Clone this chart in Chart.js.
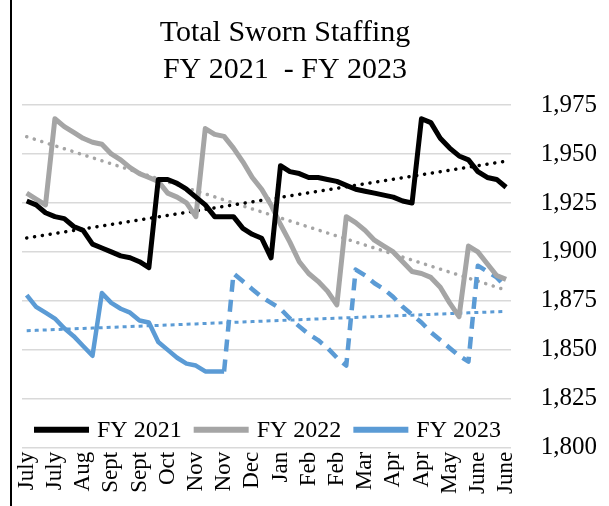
<!DOCTYPE html>
<html>
<head>
<meta charset="utf-8">
<script src="https://cdn.jsdelivr.net/npm/chart.js@4.4.1/dist/chart.umd.min.js"></script>
<style>
  html,body{margin:0;padding:0;background:#fff;}
  #wrap{width:609px;height:506px;position:relative;}
</style>
</head>
<body>
<div id="wrap"><canvas id="chart" width="609" height="506"></canvas></div>
<script>
// weekly sworn staffing, one point per week, July -> June
const tickLabels = ['July','July','Aug','Sept','Sept','Oct','Nov','Nov','Dec','Jan','Feb','Feb','Mar','Apr','Apr','May','June','June'];
const seriesNames = ['FY 2021','FY 2022','FY 2023'];
const fy2021 = [1926,1924,1920,1918,1917,1913,1911,1904,1902,1900,
                1898,1897,1895,1892,1937,1937,1935,1932,1928,1924,
                1918,1918,1918,1912,1909,1907,1897,1944,1941,1940,
                1938,1938,1937,1936,1934,1932,1931,1930,1929,1928,
                1926,1925,1968,1966,1958,1953,1949,1947,1941,1938,
                1937,1933];
const fy2022 = [1930,1927,1924,1968,1964,1961,1958,1956,1955,1950,
                1947,1943,1940,1938,1936,1930,1928,1925,1918,1963,
                1960,1959,1953,1946,1938,1932,1924,1914,1905,1895,
                1889,1885,1880,1873,1918,1915,1911,1906,1903,1900,
                1895,1890,1889,1887,1882,1874,1867,1903,1900,1894,
                1888,1886];
const fy2023 = [1878,1872,1869,1866,1861,1857,1852,1847,1879,1874,
                1871,1869,1865,1864,1854,1850,1846,1843,1842,1839,
                1839,1839,1889,1885,1881,1877,1874,1871,1866,1862,
                1858,1855,1851,1846,1842,1891,1888,1884,1881,1877,
                1872,1868,1864,1859,1855,1851,1847,1844,1893,1890,
                1887,1882];
const projectFrom = 21; // FY 2023 is projected (dashed) after this week
const titleLines = ['Total Sworn Staffing', 'FY 2021  - FY 2023'];

const weeks = fy2021.map((_, i) => tickLabels[Math.floor(i / 3)]);

// least squares trendline, like the excel one
function trend(vals){
  const n = vals.length;
  let sx = 0, sy = 0, sxy = 0, sxx = 0;
  vals.forEach((v, i) => { sx += i; sy += v; sxy += i * v; sxx += i * i; });
  const b = (n * sxy - sx * sy) / (n * sxx - sx * sx);
  const a = (sy - b * sx) / n;
  return vals.map((_, i) => a + b * i);
}

const colors = ['#000000', '#A5A5A5', '#5B9BD5'];
const serif = '"Liberation Serif", "Times New Roman", serif';

const decor = {
  id: 'decor',
  beforeDraw(chart){
    const c = chart.ctx;
    c.save();
    c.fillStyle = '#fff';
    c.fillRect(0, 0, chart.width, chart.height);
    c.strokeStyle = '#000'; c.lineWidth = 2;
    c.beginPath(); c.moveTo(11, 0); c.lineTo(11, chart.height); c.stroke();
    c.restore();
  },
  afterDraw(chart){
    const c = chart.ctx, a = chart.chartArea;
    c.save();
    c.fillStyle = '#000'; c.textAlign = 'center'; c.textBaseline = 'middle';
    c.font = '30px ' + serif;
    titleLines.forEach((t, k) => c.fillText(t, 285, 33 + k * 37));
    // legend sits inside the plot, above the bottom gridline
    let x = a.left + 12;
    const y = a.bottom - 18;
    c.font = '24px ' + serif; c.textAlign = 'left';
    chart.data.datasets.slice(0, 3).forEach(ds => {
      c.strokeStyle = ds.borderColor; c.lineWidth = 6; c.lineCap = 'butt';
      c.beginPath(); c.moveTo(x, y); c.lineTo(x + 55, y); c.stroke();
      x += 63;
      c.fillText(ds.label, x, y + 1);
      x += c.measureText(ds.label).width + 12;
    });
    c.restore();
  }
};

const mainSets = [fy2021, fy2022, fy2023].map((vals, k) => ({
  label: seriesNames[k],
  data: vals,
  borderColor: colors[k],
  borderWidth: k === 2 ? 4.5 : 5,
  borderJoinStyle: 'round',
  pointRadius: 0,
  tension: 0,
  segment: k === 2 ? { borderDash: ctx => ctx.p0DataIndex >= projectFrom ? [12, 8] : undefined } : undefined
}));

const trendSets = [fy2021, fy2022, fy2023].map((vals, k) => ({
  label: seriesNames[k] + ' trend',
  data: trend(vals),
  borderColor: colors[k],
  borderWidth: k === 2 ? 3 : 3.5,
  borderDash: k === 2 ? [4, 4] : [0.1, 7.8],
  borderCapStyle: k === 2 ? 'butt' : 'round',
  pointRadius: 0
}));

new Chart(document.getElementById('chart').getContext('2d'), {
  type: 'line',
  data: { labels: weeks, datasets: mainSets.concat(trendSets) },
  options: {
    responsive: false,
    animation: false,
    layout: { padding: { left: 22, right: 12, top: 105, bottom: 8 } },
    plugins: { legend: { display: false }, tooltip: { enabled: false }, title: { display: false } },
    scales: {
      x: {
        offset: true,
        afterFit: s => { s.paddingLeft = 0; s.paddingRight = 0; },
        grid: { display: false, drawTicks: false },
        border: { display: false },
        ticks: {
          autoSkip: false, maxRotation: 90, minRotation: 90, padding: 4,
          color: '#000', font: { family: serif, size: 23 },
          callback: (v, i) => i % 3 === 0 ? weeks[i] : ''
        }
      },
      y: {
        position: 'right',
        min: 1800, max: 1975,
        // chart.js counts the tick padding twice, drop the spare one
        afterFit: s => { s.width -= s.options.ticks.padding; },
        grid: { color: '#D9D9D9', lineWidth: 1.5, drawTicks: false },
        border: { display: false },
        ticks: {
          stepSize: 25, padding: 30, color: '#000',
          font: { family: serif, size: 25 },
          callback: v => v.toLocaleString('en-US')
        }
      }
    }
  },
  plugins: [decor]
});
</script>
</body>
</html>
